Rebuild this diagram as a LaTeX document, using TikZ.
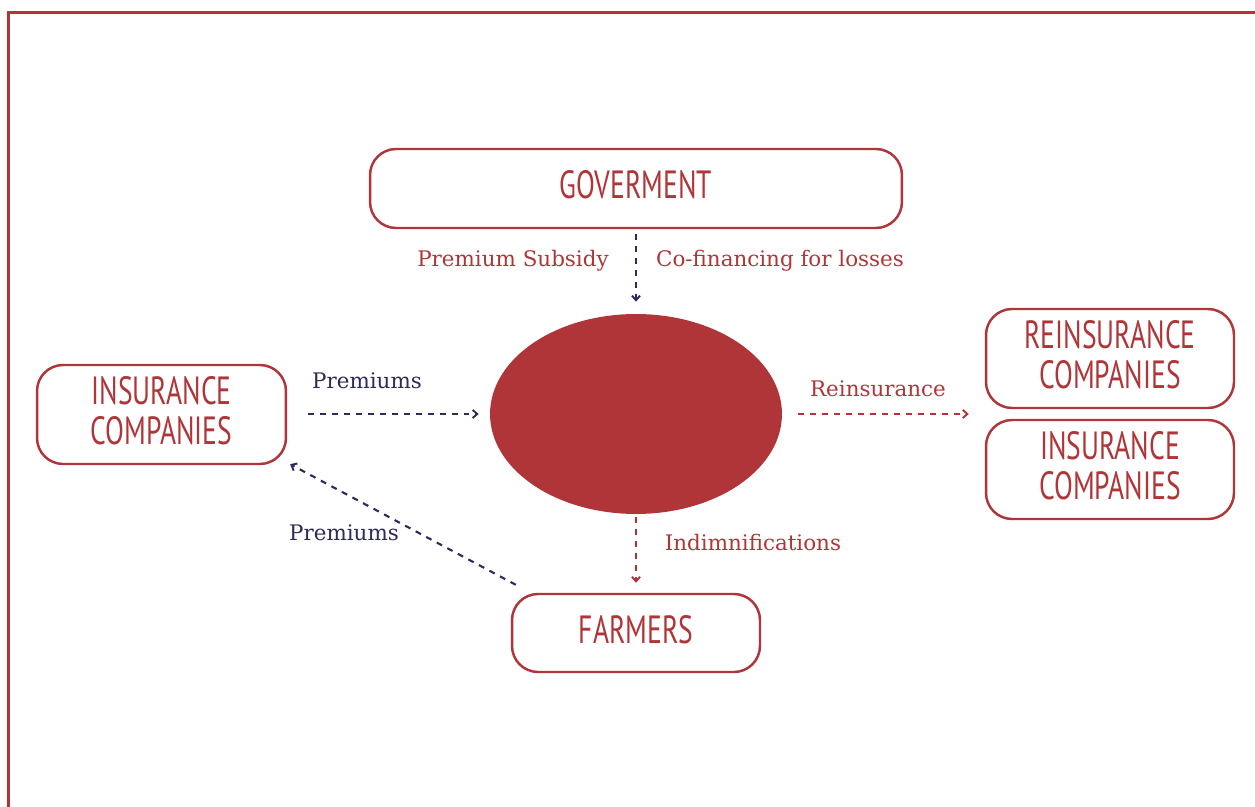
\documentclass[tikz,border=0pt]{standalone}
\usepackage{fontspec}
\usetikzlibrary{arrows.meta,shapes.geometric}
\newfontfamily\boxfont[FakeStretch=0.7]{PT Sans}
\newfontfamily\labfont{DejaVu Serif}
\definecolor{brandred}{HTML}{B03538}
\definecolor{navy}{HTML}{2D2B5A}
\tikzset{
  entity/.style={draw=brandred, line width=1.4pt, rounded corners=0.52cm, fill=white,
    inner sep=0pt},
  entitytext/.style={text=brandred, align=center, inner sep=0pt, yshift=2pt,
    font={\boxfont\fontsize{22.4}{22.5}\selectfont}},
  flow/.style={line width=1.2pt, dash pattern=on 3.4pt off 3.4pt,
    -{Straight Barb[length=2.6pt,width=4.6pt,line width=1.1pt]}},
  navyflow/.style={flow, draw=navy},
  redflow/.style={flow, draw=brandred},
  lab/.style={font={\labfont\fontsize{12.2}{14}\selectfont}, inner sep=0pt},
}
\begin{document}
\begin{tikzpicture}[x=0.02cm,y=-0.02cm]
\useasboundingbox (0,0) rectangle (1255,807);
% frame
\draw[brandred, line width=1.8pt] (8.5,807) -- (8.5,12.5) -- (1255,12.5);

\node[entity, minimum width=10.64cm, minimum height=1.58cm,
  label={[entitytext]center:GOVERMENT}] (gov) at (636,188.5) {};
\node[entity, minimum width=4.98cm, minimum height=1.98cm,
  label={[entitytext]center:INSURANCE\\COMPANIES}] (ic1) at (161.5,414.5) {};
\node[entity, minimum width=4.96cm, minimum height=1.98cm,
  label={[entitytext]center:REINSURANCE\\COMPANIES}] (rein) at (1110,358.5) {};
\node[entity, minimum width=4.96cm, minimum height=1.98cm,
  label={[entitytext]center:INSURANCE\\COMPANIES}] (ic2) at (1110,469.5) {};
\node[entity, minimum width=4.96cm, minimum height=1.56cm,
  label={[entitytext]center:FARMERS}] (farm) at (636,633) {};
\node[ellipse, fill=brandred, minimum width=5.84cm, minimum height=4cm, inner sep=0pt] (ell) at (636,414) {};

\draw[navyflow, shorten <=0.1cm, shorten >=0.24cm] (gov.south) -- (ell.north);
\draw[navyflow, shorten <=0.42cm, shorten >=0.22cm] (ic1.east |- ell.west) -- (ell.west);
\draw[redflow, shorten <=0.32cm, shorten >=0.32cm] (ell.east) -- (rein.west |- ell.east);
\draw[redflow, shorten <=0.06cm, shorten >=0.2cm] (ell.south) -- (farm.north);
\draw[navyflow] ([xshift=0.1cm,yshift=0.16cm]farm.north west) -- ([xshift=0.06cm,yshift=0.02cm]ic1.south east);

\node[lab, text=brandred] (l1) at (513,261) {Premium Subsidy};
\node[lab, text=brandred] (l2) at (780,261) {Co-financing for losses};
\node[lab, text=navy] (l3) at (367,381) {Premiums};
\node[lab, text=brandred] (l4) at (878,389) {Reinsurance};
\node[lab, text=navy] (l5) at (344,533) {Premiums};
\node[lab, text=brandred] (l6) at (753,543) {Indimnifications};
\end{tikzpicture}
\end{document}
